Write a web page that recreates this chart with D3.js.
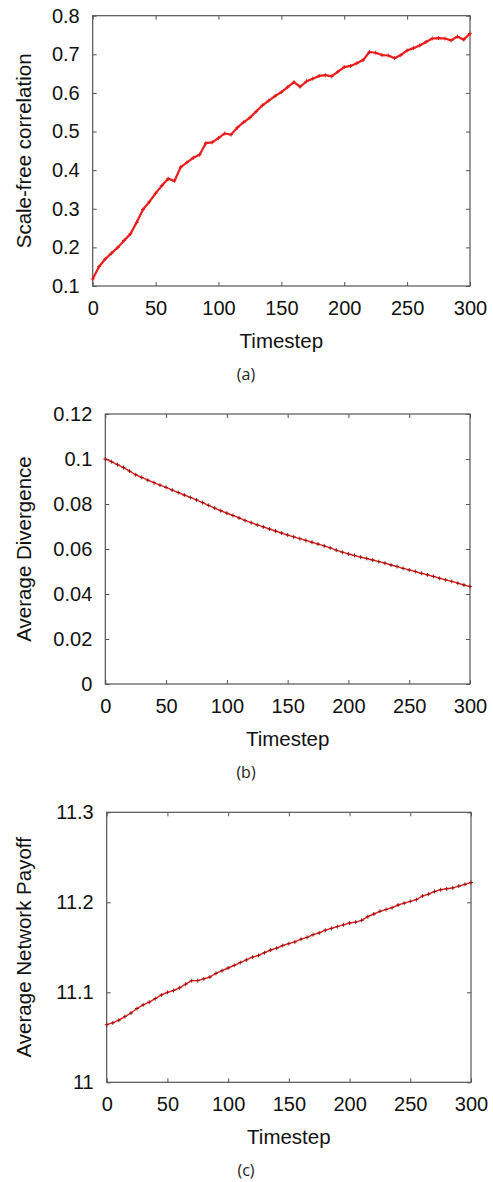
<!DOCTYPE html>
<html lang="en">
<head>
  <meta charset="UTF-8">
  <title>Scale-free correlation, divergence and payoff over time</title>
  <script src="https://d3js.org/d3.v7.min.js"></script>
  <style>
    body { margin: 0; background: #fff; }
    .tick-label { font-family: "Liberation Sans", Arial, sans-serif; font-size: 20px; fill: #111; }
    .axis-title { font-family: "Liberation Sans", Arial, sans-serif; font-size: 20.5px; fill: #111; }
    .panel-tag { font-family: "Open Sans", sans-serif; font-size: 16px; fill: #222; }
  </style>
</head>
<body>
  <svg width="493" height="1182"></svg>

  <script>
    // x values (every 5th timestep)
    const timesteps = [0, 5, 10, 15, 20, 25, 30, 35, 40, 45, 50, 55, 60, 65, 70, 75, 80, 85, 90, 95,
      100, 105, 110, 115, 120, 125, 130, 135, 140, 145, 150, 155, 160, 165, 170, 175, 180, 185, 190, 195,
      200, 205, 210, 215, 220, 225, 230, 235, 240, 245, 250, 255, 260, 265, 270, 275, 280, 285, 290, 295, 300];

    // (a)
    const scaleFreeCorr = [0.118, 0.150, 0.170, 0.185, 0.200, 0.218, 0.235, 0.265, 0.298, 0.318,
      0.340, 0.360, 0.378, 0.372, 0.408, 0.420, 0.432, 0.440, 0.470, 0.472,
      0.483, 0.495, 0.492, 0.510, 0.524, 0.536, 0.552, 0.568, 0.580, 0.592,
      0.602, 0.615, 0.628, 0.616, 0.630, 0.637, 0.644, 0.646, 0.643, 0.655,
      0.667, 0.670, 0.677, 0.685, 0.706, 0.704, 0.698, 0.697, 0.690, 0.698,
      0.710, 0.716, 0.723, 0.732, 0.741, 0.742, 0.741, 0.736, 0.746, 0.738, 0.754];

    // (b)
    const avgDivergence = [0.1000, 0.0988, 0.0975, 0.0962, 0.0946, 0.0930, 0.0918, 0.0906, 0.0895, 0.0884,
      0.0874, 0.0862, 0.0851, 0.0840, 0.0829, 0.0818, 0.0806, 0.0794, 0.0782, 0.0770,
      0.0759, 0.0749, 0.0738, 0.0727, 0.0717, 0.0707, 0.0698, 0.0689, 0.0680, 0.0671,
      0.0662, 0.0654, 0.0646, 0.0638, 0.0630, 0.0622, 0.0614, 0.0605, 0.0595, 0.0586,
      0.0578, 0.0571, 0.0564, 0.0558, 0.0551, 0.0544, 0.0537, 0.0529, 0.0522, 0.0514,
      0.0507, 0.0500, 0.0492, 0.0485, 0.0478, 0.0470, 0.0463, 0.0456, 0.0448, 0.0440, 0.0433];

    // (c)
    const avgPayoff = [11.064, 11.066, 11.069, 11.073, 11.077, 11.082, 11.086, 11.089, 11.093, 11.097,
      11.100, 11.102, 11.105, 11.109, 11.113, 11.113, 11.115, 11.117, 11.121, 11.124,
      11.127, 11.130, 11.133, 11.136, 11.139, 11.141, 11.144, 11.147, 11.149, 11.152,
      11.154, 11.156, 11.159, 11.161, 11.164, 11.166, 11.169, 11.171, 11.173, 11.175,
      11.177, 11.178, 11.180, 11.184, 11.187, 11.190, 11.192, 11.194, 11.197, 11.199,
      11.201, 11.203, 11.207, 11.209, 11.212, 11.214, 11.215, 11.216, 11.218, 11.220, 11.222];

    const xTicks = [0, 50, 100, 150, 200, 250, 300];
    const corrTicks = [0.1, 0.2, 0.3, 0.4, 0.5, 0.6, 0.7, 0.8];
    const corrTickLabels = ["0.1", "0.2", "0.3", "0.4", "0.5", "0.6", "0.7", "0.8"];
    const divTicks = [0, 0.02, 0.04, 0.06, 0.08, 0.1, 0.12];
    const divTickLabels = ["0", "0.02", "0.04", "0.06", "0.08", "0.1", "0.12"];
    const payoffTicks = [11, 11.1, 11.2, 11.3];
    const payoffTickLabels = ["11", "11.1", "11.2", "11.3"];

    const svg = d3.select("svg");

    const panels = [
      { left: 92.7, right: 470, top: 15.7, bottom: 286, values: scaleFreeCorr, yDomain: [0.1, 0.8],
        yTicks: corrTicks, yLabels: corrTickLabels, title: "Scale-free correlation", tag: "(a)",
        lineW: 2.2, markColor: "#e01818" },
      { left: 105.3, right: 470, top: 414, bottom: 684, values: avgDivergence, yDomain: [0, 0.12],
        yTicks: divTicks, yLabels: divTickLabels, title: "Average Divergence", tag: "(b)",
        lineW: 1.4, markColor: "#8a1010" },
      { left: 106.7, right: 471, top: 812.3, bottom: 1082.3, values: avgPayoff, yDomain: [11, 11.3],
        yTicks: payoffTicks, yLabels: payoffTickLabels, title: "Average Network Payoff", tag: "(c)",
        lineW: 1.4, markColor: "#8a1010" }
    ];

    function styleAxis(g) {
      g.select(".domain").remove();
      g.selectAll(".tick line").attr("stroke", "#555").attr("stroke-width", 1);
      g.attr("font-family", null).attr("font-size", null);
      g.selectAll(".tick text").attr("class", "tick-label").attr("fill", null);
    }

    panels.forEach(p => {
      const x = d3.scaleLinear().domain([0, 300]).range([p.left, p.right]);
      const y = d3.scaleLinear().domain(p.yDomain).range([p.bottom, p.top]);
      const data = timesteps.map((t, i) => ({ t: t, v: p.values[i] }));

      // Axes (ticks point inwards, mirrored on top/right)
      svg.append("g")
        .attr("transform", `translate(0,${p.bottom})`)
        .call(d3.axisBottom(x).tickValues(xTicks).tickFormat(d3.format("d"))
          .tickSizeInner(-4).tickSizeOuter(0).tickPadding(15))
        .call(styleAxis);

      svg.append("g")
        .attr("transform", `translate(0,${p.top})`)
        .call(d3.axisTop(x).tickValues(xTicks).tickFormat("").tickSizeInner(-4).tickSizeOuter(0))
        .call(styleAxis);

      svg.append("g")
        .attr("transform", `translate(${p.left},0)`)
        .call(d3.axisLeft(y).tickValues(p.yTicks).tickFormat((d, i) => p.yLabels[i])
          .tickSizeInner(-4).tickSizeOuter(0).tickPadding(13))
        .call(styleAxis);

      svg.append("g")
        .attr("transform", `translate(${p.right},0)`)
        .call(d3.axisRight(y).tickValues(p.yTicks).tickFormat("").tickSizeInner(-4).tickSizeOuter(0))
        .call(styleAxis);

      // Frame
      svg.append("rect")
        .attr("x", p.left)
        .attr("y", p.top)
        .attr("width", p.right - p.left)
        .attr("height", p.bottom - p.top)
        .attr("fill", "none")
        .attr("stroke", "#555")
        .attr("stroke-width", 1.2);

      // Labels
      svg.append("text")
        .attr("class", "axis-title")
        .attr("x", (p.left + p.right) / 2)
        .attr("y", p.bottom + 62)
        .attr("text-anchor", "middle")
        .text("Timestep");

      svg.append("text")
        .attr("class", "axis-title")
        .attr("transform", "rotate(-90)")
        .attr("x", -(p.top + p.bottom) / 2)
        .attr("y", 31)
        .attr("text-anchor", "middle")
        .text(p.title);

      svg.append("text")
        .attr("class", "panel-tag")
        .attr("x", 246)
        .attr("y", p.bottom + 94)
        .attr("text-anchor", "middle")
        .text(p.tag);

      // Series line + point markers
      svg.append("path")
        .datum(data)
        .attr("fill", "none")
        .attr("stroke", "#ee1c1c")
        .attr("stroke-width", p.lineW)
        .attr("stroke-linejoin", "round")
        .attr("d", d3.line().x(d => x(d.t)).y(d => y(d.v)));

      svg.append("g")
        .selectAll("path")
        .data(data)
        .enter()
        .append("path")
        .attr("transform", d => `translate(${x(d.t)},${y(d.v)})`)
        .attr("d", "M-2,0H2M0,-2V2")
        .attr("stroke", p.markColor)
        .attr("stroke-width", 0.9)
        .attr("fill", "none");
    });
  </script>
</body>
</html>
